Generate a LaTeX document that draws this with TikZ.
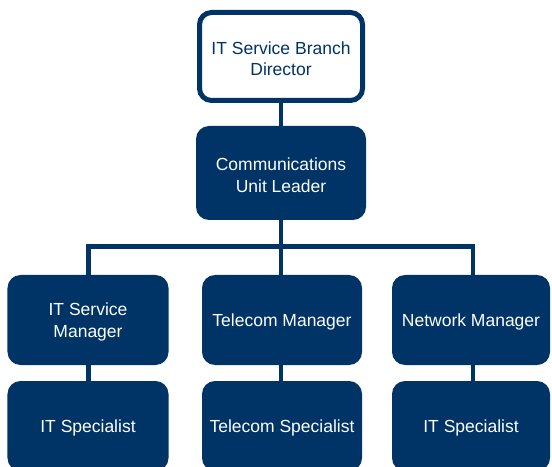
\documentclass[tikz,border=0pt]{standalone}
\usepackage{fontspec}
\setmainfont{Liberation Sans}
\definecolor{navy}{RGB}{0,51,102}
\begin{document}
\begin{tikzpicture}[x=1bp,y=-1bp,
  boxtext/.style={font=\fontsize{17.5bp}{21.5bp}\selectfont, align=center, inner sep=0pt, yshift=-2.2bp},
  darkbox/.style={fill=navy, rounded corners=13bp, minimum width=161bp, minimum height=90bp, inner sep=0pt},
  lightbox/.style={draw=navy, line width=5bp, fill=white, rounded corners=12bp, minimum width=163bp, minimum height=88bp, inner sep=0pt},
  link/.style={draw=navy, line width=4.6bp, line join=miter}]
\useasboundingbox (0,0) rectangle (552,467);
\coordinate (bus) at (281,246.5);
\node[lightbox, label={[boxtext,text=navy]center:IT Service Branch\\Director}] (dir) at (281,56.5) {};
\node[darkbox, minimum width=170bp, minimum height=94bp, label={[boxtext,text=white]center:Communications\\Unit Leader}] (cul) at (281,173) {};
\node[darkbox, label={[boxtext,text=white]center:IT Service\\Manager}] (m1) at (88,320) {};
\node[darkbox, minimum width=160bp, label={[boxtext,text=white]center:Telecom Manager}] (m2) at (282,320) {};
\node[darkbox, minimum width=158bp, label={[boxtext,text=white]center:Network Manager}] (m3) at (471,320) {};
\node[darkbox, label={[boxtext,text=white]center:IT Specialist}] (s1) at (88,426) {};
\node[darkbox, minimum width=160bp, label={[boxtext,text=white]center:Telecom Specialist}] (s2) at (282,426) {};
\node[darkbox, minimum width=158bp, label={[boxtext,text=white]center:IT Specialist}] (s3) at (471,426) {};
\path[link] (dir.south) -- (cul.north);
\path[link] (cul.south) -- (bus);
\path[link] ([xshift=0.5bp]m1.north) -- ([xshift=0.5bp]m1.north |- bus) -- ([xshift=2bp]m3.north |- bus) -- ([xshift=2bp]m3.north);
\path[link] (bus) -- (m2.north -| bus);
\path[link] ([xshift=0.5bp]m1.south) -- ([xshift=0.5bp]s1.north);
\path[link] (m2.south -| bus) -- (s2.north -| bus);
\path[link] ([xshift=2bp]m3.south) -- ([xshift=2bp]s3.north);
\end{tikzpicture}
\end{document}
